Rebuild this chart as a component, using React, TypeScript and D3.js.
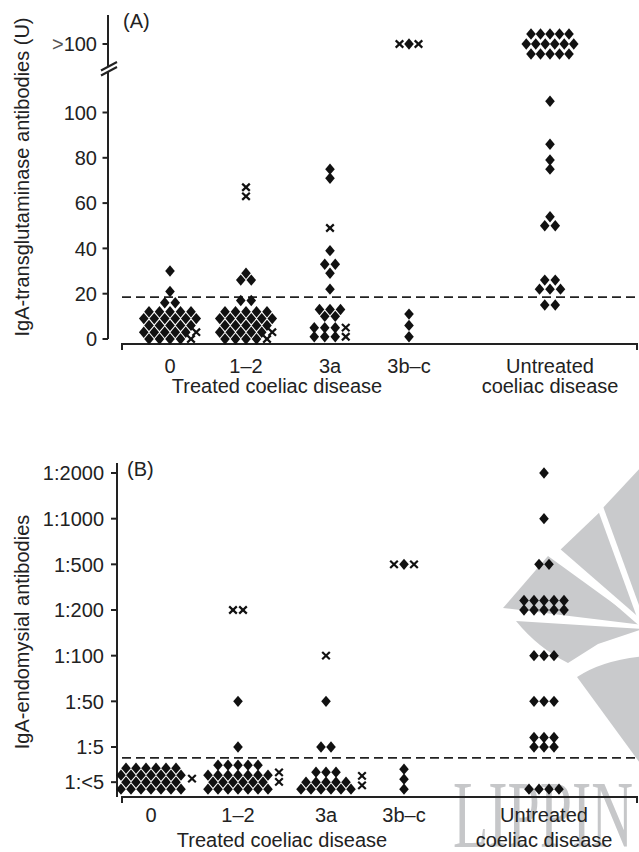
import React, { useEffect } from "react";
import * as d3 from "d3";

const W = 639;
const H = 852;
const FONT = "'Liberation Sans', Arial, Helvetica, sans-serif";

type Key = number | string;
type Pair = [Key, number];
type Mark = { x: number; y: number; kind: "d" | "x" };

// ---------- shared categories ----------
const categories = ["0", "1–2", "3a", "3b–c", "Untreated"];
const OVER = ">100";

// ---------- Panel A: IgA-tTG (U), [value, number of patients] ----------
const ttgTicks = [0, 20, 40, 60, 80, 100];
const ttgCutoff = 18.5;
const ttg0Diamonds: Pair[] = [[0, 4], [3, 5], [6, 5], [9, 6], [12, 5], [16, 2], [21, 1], [30, 1]];
const ttg0Crosses: Pair[] = [[0, 1], [3, 1]];
const ttg12Diamonds: Pair[] = [[0, 4], [3, 5], [6, 5], [9, 6], [12, 5], [17, 2], [26, 2], [29, 1]];
const ttg12Crosses: Pair[] = [[0, 1], [3, 1], [63, 1], [67, 1]];
const ttg3aDiamonds: Pair[] = [[1, 3], [5, 3], [10, 2], [13, 3], [22, 1], [29, 1], [33, 2], [39, 1], [71, 1], [75, 1]];
const ttg3aCrosses: Pair[] = [[1, 1], [5, 1], [49, 1]];
const ttg3bcDiamonds: Pair[] = [[1, 1], [6, 1], [11, 1], [OVER, 1]];
const ttg3bcCrosses: Pair[] = [[OVER, 2]];
const ttgUntreatedDiamonds: Pair[] = [[15, 2], [22, 3], [26, 2], [50, 2], [54, 1], [75, 1], [79, 1], [86, 1], [105, 1], [OVER, 16]];
const ttgUntreatedCrosses: Pair[] = [];

// ---------- Panel B: IgA-EMA titre, [titre, number of patients] ----------
const emaLevels = ["1:<5", "1:5", "1:50", "1:100", "1:200", "1:500", "1:1000", "1:2000"];
const ema0Diamonds: Pair[] = [["1:<5", 26]];
const ema0Crosses: Pair[] = [["1:<5", 1]];
const ema12Diamonds: Pair[] = [["1:<5", 25], ["1:5", 1], ["1:50", 1]];
const ema12Crosses: Pair[] = [["1:<5", 2], ["1:200", 2]];
const ema3aDiamonds: Pair[] = [["1:<5", 14], ["1:5", 2], ["1:50", 1]];
const ema3aCrosses: Pair[] = [["1:<5", 2], ["1:100", 1]];
const ema3bcDiamonds: Pair[] = [["1:<5", 3], ["1:500", 1]];
const ema3bcCrosses: Pair[] = [["1:500", 2]];
const emaUntreatedDiamonds: Pair[] = [["1:<5", 4], ["1:5", 6], ["1:50", 3], ["1:100", 3], ["1:200", 10], ["1:500", 2], ["1:1000", 1], ["1:2000", 1]];
const emaUntreatedCrosses: Pair[] = [];

// ---------- layout ----------
const xA = d3.scaleOrdinal<string, number>().domain(categories).range([170, 246, 330, 409, 550]);
const xB = d3.scaleOrdinal<string, number>().domain(categories).range([151, 238, 326, 404, 544]);
const yA = d3.scaleLinear().domain([0, 100]).range([339, 112.5]);
const yOverA = 44;
const yB = d3.scaleLinear().domain([1, 7]).range([747, 473]);
const emaLowPos = 0.23;
const emaCutoffPos = 0.76;

const HW = 4.8;
const HH = 5.7;

function levelsOf(d: Pair[], c: Pair[]) {
  const keys: Key[] = [];
  const m = new Map<Key, { d: number; c: number }>();
  const get = (k: Key) => {
    if (!m.has(k)) {
      m.set(k, { d: 0, c: 0 });
      keys.push(k);
    }
    return m.get(k)!;
  };
  d.forEach(([k, n]) => (get(k).d += n));
  c.forEach(([k, n]) => (get(k).c += n));
  return keys.map((k) => ({ key: k, ...m.get(k)! }));
}

function rowItems(nd: number, nc: number): ("d" | "x")[] {
  const items: ("d" | "x")[] = [];
  if (nd <= 1 && nc >= 2) {
    items.push("x");
    for (let i = 0; i < nd; i++) items.push("d");
    for (let i = 1; i < nc; i++) items.push("x");
  } else {
    for (let i = 0; i < nd; i++) items.push("d");
    for (let i = 0; i < nc; i++) items.push("x");
  }
  return items;
}

function placeRow(items: ("d" | "x")[], cx: number, y: number, sp: number, out: Mark[]) {
  const n = items.length;
  items.forEach((k, i) => out.push({ x: cx + (i - (n - 1) / 2) * sp, y, kind: k }));
}

function layoutA(d: Pair[], c: Pair[], cx: number): Mark[] {
  const out: Mark[] = [];
  levelsOf(d, c).forEach((lv) => {
    const items = rowItems(lv.d, lv.c);
    if (lv.key === OVER) {
      const r = Math.ceil(items.length / 6);
      const base = Math.floor(items.length / r);
      let extra = items.length - base * r;
      const counts = new Array(r).fill(base);
      const mid = Math.floor(r / 2);
      for (let i = 0; extra > 0; i++, extra--) counts[(mid + i) % r]++;
      let idx = 0;
      counts.forEach((cnt, ri) => {
        placeRow(items.slice(idx, idx + cnt), cx, yOverA + (ri - (r - 1) / 2) * 10, 9.5, out);
        idx += cnt;
      });
    } else {
      placeRow(items, cx, yA(lv.key as number), 10.5, out);
    }
  });
  return out;
}

function splitRows(n: number, max: number, style: string) {
  const rows: number[] = [];
  if (style === "lattice" && max > 1) {
    let rem = n;
    let i = 0;
    while (rem > 0) {
      const cap = i % 2 === 0 ? max : max - 1;
      const k = Math.min(cap, rem);
      rows.push(k);
      rem -= k;
      i++;
    }
  } else {
    const r = Math.ceil(n / max);
    const base = Math.floor(n / r);
    const extra = n - base * r;
    for (let i = 0; i < r; i++) rows.push(base + (i < extra ? 1 : 0));
  }
  return rows;
}

const emaPack = [
  { max: 7, style: "lattice" },
  { max: 7, style: "lattice" },
  { max: 6, style: "lattice" },
  { max: 1, style: "balanced" },
  { max: 5, style: "balanced" },
];

function layoutB(d: Pair[], c: Pair[], cx: number, pack: { max: number; style: string }): Mark[] {
  const out: Mark[] = [];
  levelsOf(d, c).forEach((lv) => {
    const li = emaLevels.indexOf(lv.key as string);
    if (li === 0) {
      const rows = splitRows(lv.d, pack.max, pack.style);
      const base = yB(emaLowPos) + 7;
      let y = base;
      rows.forEach((cnt, ri) => {
        if (ri > 0) y -= Math.abs(rows[ri - 1] - cnt) % 2 === 1 ? 7 : 10;
        placeRow(new Array(cnt).fill("d"), cx, y, 10, out);
      });
      if (lv.c > 0) {
        const midY = (base + y) / 2;
        const maxRow = Math.max(...rows);
        const xc = cx + ((maxRow - 1) / 2 + 1.1) * 10;
        for (let i = 0; i < lv.c; i++) out.push({ x: xc, y: midY + (i - (lv.c - 1) / 2) * 9.5, kind: "x" });
      }
    } else {
      const items = rowItems(lv.d, lv.c);
      const rows = splitRows(items.length, 5, "balanced");
      let y = yB(li);
      let idx = 0;
      rows.forEach((cnt, ri) => {
        if (ri > 0) y -= Math.abs(rows[ri - 1] - cnt) % 2 === 1 ? 7 : 9.5;
        placeRow(items.slice(idx, idx + cnt), cx, y, 10, out);
        idx += cnt;
      });
    }
  });
  return out;
}

const ttgGroups: [Pair[], Pair[]][] = [
  [ttg0Diamonds, ttg0Crosses],
  [ttg12Diamonds, ttg12Crosses],
  [ttg3aDiamonds, ttg3aCrosses],
  [ttg3bcDiamonds, ttg3bcCrosses],
  [ttgUntreatedDiamonds, ttgUntreatedCrosses],
];
const emaGroups: [Pair[], Pair[]][] = [
  [ema0Diamonds, ema0Crosses],
  [ema12Diamonds, ema12Crosses],
  [ema3aDiamonds, ema3aCrosses],
  [ema3bcDiamonds, ema3bcCrosses],
  [emaUntreatedDiamonds, emaUntreatedCrosses],
];

function diamondPath(x: number, y: number) {
  const p = d3.path();
  p.moveTo(x, y - HH);
  p.lineTo(x + HW, y);
  p.lineTo(x, y + HH);
  p.lineTo(x - HW, y);
  p.closePath();
  return p.toString();
}

function Marks({ marks }: { marks: Mark[] }) {
  return (
    <g>
      {marks.map((m, i) =>
        m.kind === "d" ? (
          <path key={i} d={diamondPath(m.x, m.y)} fill="#111" />
        ) : (
          <g key={i} stroke="#111" strokeWidth={2.2} strokeLinecap="butt">
            <line x1={m.x - 3.8} y1={m.y - 3.6} x2={m.x + 3.8} y2={m.y + 3.6} />
            <line x1={m.x - 3.8} y1={m.y + 3.6} x2={m.x + 3.8} y2={m.y - 3.6} />
          </g>
        )
      )}
    </g>
  );
}

function Watermark() {
  const fill = "#c9cacc";
  const C: [number, number] = [643, 625];
  const poly = (pts: [number, number][]) => {
    const p = d3.path();
    p.moveTo(pts[0][0], pts[0][1]);
    pts.slice(1).forEach((q) => p.lineTo(q[0], q[1]));
    p.closePath();
    return p.toString();
  };
  const w4 = d3.path();
  w4.moveTo(516, 621);
  w4.lineTo(C[0], 629);
  w4.lineTo(598, 644);
  w4.lineTo(568, 663);
  w4.quadraticCurveTo(538, 648, 516, 621);
  w4.closePath();
  const w5 = d3.path();
  w5.moveTo(577, 677);
  w5.quadraticCurveTo(602, 660, 645, 656);
  w5.lineTo(645, 770);
  w5.closePath();
  return (
    <g>
      <path d={poly([C, [600, 511], [641, 467], [660, 467], [660, 625]])} fill={fill} />
      <path d={poly([C, [558, 552], [603, 509]])} fill={fill} />
      <path d={poly([C, [503, 608], [548, 556]])} fill={fill} />
      <path d={w4.toString()} fill={fill} />
      <path d={w5.toString()} fill={fill} />
      <g stroke="#fff" strokeWidth={6}>
        <line x1={C[0]} y1={C[1]} x2={C[0] - 200 * Math.cos((70 * Math.PI) / 180)} y2={C[1] - 200 * Math.sin((70 * Math.PI) / 180)} />
        <line x1={C[0]} y1={C[1]} x2={C[0] - 200 * Math.cos((41 * Math.PI) / 180)} y2={C[1] - 200 * Math.sin((41 * Math.PI) / 180)} />
      </g>
      <text
        x={453}
        y={847}
        fontFamily="'Liberation Serif', 'DejaVu Serif', serif"
        fontSize={96}
        fill="#c6c7c9"
        textLength={180}
        lengthAdjust="spacingAndGlyphs"
      >
        LIPPIN
      </text>
    </g>
  );
}

export default function App() {
  useEffect(() => {
    document.body.style.margin = "0";
  }, []);

  const marksA = ttgGroups.map(([d, c], i) => layoutA(d, c, xA(categories[i])));
  const marksB = emaGroups.map(([d, c], i) => layoutB(d, c, xB(categories[i]), emaPack[i]));

  const axA = 108;
  const axB = 117;
  const fs = 20;

  return (
    <svg
      width={W}
      height={H}
      viewBox={`0 0 ${W} ${H}`}
      style={{ display: "block", position: "absolute", left: 0, top: 0, background: "#fff" }}
      fontFamily={FONT}
      fontSize={fs}
      fill="#222"
    >
      <rect x={0} y={0} width={W} height={H} fill="#fff" />
      <Watermark />

      {/* ---------------- Panel A ---------------- */}
      <g>
        <g stroke="#222" strokeWidth={2} fill="none">
          <line x1={axA} y1={15} x2={axA} y2={66.5} />
          <line x1={axA} y1={71.5} x2={axA} y2={yA(0)} />
          <line x1={101} y1={70.5} x2={117} y2={62} />
          <line x1={101} y1={75.5} x2={117} y2={67} />
          {ttgTicks.map((t) => (
            <line key={t} x1={axA - 5.5} y1={yA(t)} x2={axA} y2={yA(t)} />
          ))}
          <line x1={axA - 5.5} y1={yOverA} x2={axA} y2={yOverA} />
          <line x1={122} y1={344} x2={637} y2={344} />
          <line x1={122} y1={343} x2={122} y2={350} />
          <line x1={637} y1={343} x2={637} y2={350} />
        </g>
        <g textAnchor="end">
          {ttgTicks.map((t) => (
            <text key={t} x={97} y={yA(t)} dy="0.36em">
              {t}
            </text>
          ))}
          <text x={97} y={yOverA} dy="0.36em">
            <tspan fontWeight={300} fill="#555">{">"}</tspan>100
          </text>
        </g>
        <line x1={122} y1={yA(ttgCutoff)} x2={W} y2={yA(ttgCutoff)} stroke="#222" strokeWidth={1.8} strokeDasharray="9,5" />
        <text x={123} y={28}>(A)</text>
        <text transform={`translate(29,177) rotate(-90)`} textAnchor="middle">
          IgA-transglutaminase antibodies (U)
        </text>
        <g textAnchor="middle">
          {categories.map((c) => (
            <text key={c} x={xA(c)} y={373}>
              {c}
            </text>
          ))}
          <text x={277} y={393}>Treated coeliac disease</text>
          <text x={xA("Untreated")} y={393}>coeliac disease</text>
        </g>
        {marksA.map((m, i) => (
          <Marks key={i} marks={m} />
        ))}
      </g>

      {/* ---------------- Panel B ---------------- */}
      <g>
        <g stroke="#222" strokeWidth={2} fill="none">
          <line x1={axB} y1={463} x2={axB} y2={797} />
          {emaLevels.map((l, i) => (
            <line key={l} x1={axB - 6} y1={yB(i === 0 ? emaLowPos : i)} x2={axB} y2={yB(i === 0 ? emaLowPos : i)} />
          ))}
          <line x1={122} y1={797} x2={637} y2={797} />
          <line x1={122} y1={796} x2={122} y2={803} />
          <line x1={637} y1={796} x2={637} y2={803} />
        </g>
        <g textAnchor="end">
          {emaLevels.map((l, i) => (
            <text key={l} x={104} y={yB(i === 0 ? emaLowPos : i)} dy="0.36em">
              {l}
            </text>
          ))}
        </g>
        <line x1={122} y1={yB(emaCutoffPos)} x2={W} y2={yB(emaCutoffPos)} stroke="#222" strokeWidth={1.8} strokeDasharray="9,5" />
        <text x={127} y={476}>(B)</text>
        <text transform={`translate(29,632) rotate(-90)`} textAnchor="middle">
          IgA-endomysial antibodies
        </text>
        <g textAnchor="middle">
          {categories.map((c) => (
            <text key={c} x={xB(c)} y={822}>
              {c}
            </text>
          ))}
          <text x={282} y={847}>Treated coeliac disease</text>
          <text x={xB("Untreated")} y={847}>coeliac disease</text>
        </g>
        {marksB.map((m, i) => (
          <Marks key={i} marks={m} />
        ))}
      </g>
    </svg>
  );
}
